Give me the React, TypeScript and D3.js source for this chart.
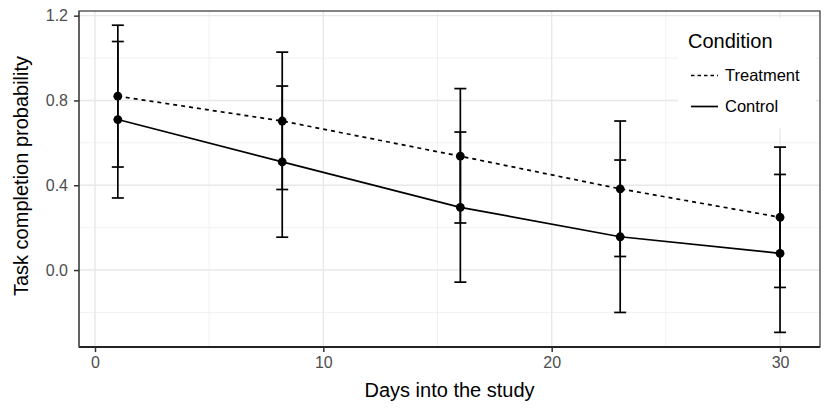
import React, { useEffect, useRef } from "react";
import * as d3 from "d3";

const days = [1, 8.2, 16, 23, 30];
const treatment = [0.82, 0.703, 0.537, 0.383, 0.249];
const treatmentLo = [0.486, 0.38, 0.222, 0.064, -0.082];
const treatmentHi = [1.155, 1.028, 0.856, 0.703, 0.58];
const control = [0.71, 0.51, 0.296, 0.157, 0.079];
const controlLo = [0.34, 0.155, -0.057, -0.2, -0.294];
const controlHi = [1.078, 0.868, 0.651, 0.519, 0.451];
const xTicks = [0, 10, 20, 30];
const xMinor = [5, 15, 25];
const yTicks = [0, 0.4, 0.8, 1.2];
const yMinor = [-0.2, 0.2, 0.6, 1.0];

const W = 830;
const H = 415;
const left = 79;
const right = 820;
const top = 11;
const bottom = 347;
const FONT = "Liberation Sans, Arial, sans-serif";

const App: React.FC = () => {
  const ref = useRef<SVGSVGElement>(null);

  useEffect(() => {
    const svg = d3.select(ref.current);
    svg.selectAll("*").remove();

    const x = d3.scaleLinear().domain([-0.7, 31.75]).range([left, right]);
    const y = d3.scaleLinear().domain([-0.363, 1.222]).range([bottom, top]);

    const grid = svg.append("g");
    xMinor.forEach((v) =>
      grid.append("line").attr("x1", x(v)).attr("x2", x(v)).attr("y1", top).attr("y2", bottom)
        .attr("stroke", "#ebebeb").attr("stroke-width", 0.7)
    );
    yMinor.forEach((v) =>
      grid.append("line").attr("x1", left).attr("x2", right).attr("y1", y(v)).attr("y2", y(v))
        .attr("stroke", "#ebebeb").attr("stroke-width", 0.7)
    );
    xTicks.forEach((v) =>
      grid.append("line").attr("x1", x(v)).attr("x2", x(v)).attr("y1", top).attr("y2", bottom)
        .attr("stroke", "#e8e8e8").attr("stroke-width", 1.4)
    );
    yTicks.forEach((v) =>
      grid.append("line").attr("x1", left).attr("x2", right).attr("y1", y(v)).attr("y2", y(v))
        .attr("stroke", "#e8e8e8").attr("stroke-width", 1.4)
    );

    // error bars
    const bars = svg.append("g").attr("stroke", "black").attr("stroke-width", 1.7);
    const drawBars = (lo: number[], hi: number[]) => {
      days.forEach((d, i) => {
        const cx = x(d);
        bars.append("line").attr("x1", cx).attr("x2", cx).attr("y1", y(lo[i])).attr("y2", y(hi[i]));
        [lo[i], hi[i]].forEach((v) =>
          bars.append("line").attr("x1", cx - 6).attr("x2", cx + 6).attr("y1", y(v)).attr("y2", y(v))
        );
      });
    };
    drawBars(treatmentLo, treatmentHi);
    drawBars(controlLo, controlHi);

    const line = d3
      .line<number>()
      .x((_, i) => x(days[i]))
      .y((d) => y(d));

    svg.append("path").attr("d", line(treatment)).attr("fill", "none")
      .attr("stroke", "black").attr("stroke-width", 1.7).attr("stroke-dasharray", "4,4");
    svg.append("path").attr("d", line(control)).attr("fill", "none")
      .attr("stroke", "black").attr("stroke-width", 1.7);

    [treatment, control].forEach((s) =>
      svg.append("g").selectAll("circle").data(s).join("circle")
        .attr("cx", (_, i) => x(days[i])).attr("cy", (d) => y(d)).attr("r", 4.4).attr("fill", "black")
    );

    // panel border
    svg.append("rect").attr("x", left).attr("y", top).attr("width", right - left).attr("height", bottom - top)
      .attr("fill", "none").attr("stroke", "#333333").attr("stroke-width", 1.2);
    svg.append("line").attr("x1", left).attr("x2", right).attr("y1", bottom).attr("y2", bottom)
      .attr("stroke", "#222").attr("stroke-width", 1.8);
    svg.append("line").attr("x1", left).attr("x2", left).attr("y1", top).attr("y2", bottom)
      .attr("stroke", "#555").attr("stroke-width", 1.4);

    // axes
    const xAxis = svg.append("g").attr("transform", `translate(0,${bottom})`)
      .call(d3.axisBottom(x).tickValues(xTicks).tickSize(5).tickPadding(5).tickFormat(d3.format("d")));
    xAxis.select(".domain").remove();
    xAxis.attr("font-size", 16).attr("font-family", FONT);
    xAxis.selectAll("line").attr("stroke", "#333").attr("stroke-width", 1.5);
    xAxis.selectAll("text").attr("fill", "#4d4d4d");

    const yAxis = svg.append("g").attr("transform", `translate(${left},0)`)
      .call(d3.axisLeft(y).tickValues(yTicks).tickSize(5).tickPadding(6).tickFormat(d3.format(".1f")));
    yAxis.select(".domain").remove();
    yAxis.attr("font-size", 16).attr("font-family", FONT);
    yAxis.selectAll("line").attr("stroke", "#333").attr("stroke-width", 1.5);
    yAxis.selectAll("text").attr("fill", "#4d4d4d");

    svg.append("text").attr("x", (left + right) / 2).attr("y", 397).attr("text-anchor", "middle")
      .attr("font-size", 20).attr("font-family", FONT).text("Days into the study");
    svg.append("text").attr("transform", `translate(28,176) rotate(-90)`)
      .attr("text-anchor", "middle").attr("font-size", 20).attr("font-family", FONT)
      .text("Task completion probability");

    // legend
    const lg = svg.append("g");
    lg.append("rect").attr("x", 678).attr("y", 18).attr("width", 138).attr("height", 110).attr("fill", "white");
    lg.append("text").attr("x", 688).attr("y", 48).attr("font-size", 20)
      .attr("font-family", FONT).text("Condition");
    const keys: [string, string | null, number][] = [
      ["Treatment", "3.5,3", 75.5],
      ["Control", null, 106.5],
    ];
    keys.forEach(([label, dash, ky]) => {
      const l = lg.append("line").attr("x1", 691).attr("x2", 718).attr("y1", ky).attr("y2", ky)
        .attr("stroke", "black").attr("stroke-width", 1.7);
      if (dash) l.attr("stroke-dasharray", dash);
      lg.append("text").attr("x", 725).attr("y", ky + 5.5).attr("font-size", 16.5)
        .attr("font-family", FONT).text(label);
    });
  }, []);

  return <svg ref={ref} width={W} height={H} style={{ display: "block", position: "absolute", left: 0, top: 0 }} />;
};

export default App;
